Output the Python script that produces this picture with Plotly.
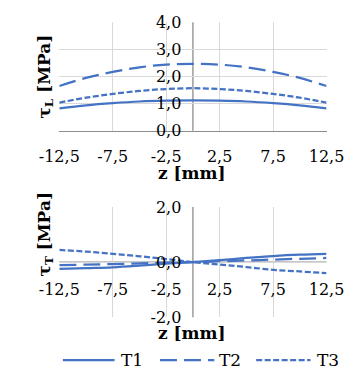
import plotly.graph_objects as go

# Position along the joint (mm)
z = [-12.5, -10, -7.5, -5, -2.5, 0, 2.5, 5, 7.5, 10, 12.5]

# Longitudinal shear stress tau_L (MPa)
tauL_T1 = [0.83, 0.94, 1.02, 1.08, 1.11, 1.12, 1.11, 1.08, 1.02, 0.94, 0.83]
tauL_T2 = [1.65, 1.95, 2.17, 2.34, 2.44, 2.47, 2.44, 2.34, 2.17, 1.95, 1.65]
tauL_T3 = [1.04, 1.22, 1.36, 1.47, 1.54, 1.57, 1.54, 1.47, 1.36, 1.22, 1.04]

# Transverse shear stress tau_T (MPa)
tauT_T1 = [-0.25, -0.22, -0.19, -0.13, -0.06, 0.0, 0.07, 0.15, 0.22, 0.27, 0.30]
tauT_T2 = [-0.11, -0.09, -0.07, -0.05, -0.02, 0.0, 0.03, 0.06, 0.09, 0.12, 0.15]
tauT_T3 = [0.44, 0.38, 0.30, 0.21, 0.11, 0.0, -0.09, -0.18, -0.28, -0.34, -0.40]

series_names = ["T1", "T2", "T3"]

# Tick positions and labels
z_ticks = [-12.5, -7.5, -2.5, 2.5, 7.5, 12.5]
z_ticktext = ["-12,5", "-7,5", "-2,5", "2,5", "7,5", "12,5"]
tauL_ticks = [0, 1, 2, 3, 4]
tauL_ticktext = ["0,0", "1,0", "2,0", "3,0", "4,0"]
tauT_ticks = [-2, 0, 2]
tauT_ticktext = ["-2,0", "0,0", "2,0"]

W, H = 357, 391
FONT = "DejaVu Serif"
BLUE = "#4472C4"
GRID = "#d9d9d9"
AXIS = "#8c8c8c"
LW = 2.25
dashes = ["solid", "17px,7px", "6px,2.5px"]

def px(x):
    return x / W

def py(y):
    return 1 - y / H

x_dom = [px(43), px(343)]
top_dom = [py(128), py(14)]
bot_dom = [py(324), py(208)]
ylabel_pos = px(180)         # tick labels sit left of the z = 0 line
bot_xlabel_pos = py(283)     # tick labels sit just under the tau_T = 0 line

fig = go.Figure()

for name, vals, d in zip(series_names, [tauL_T1, tauL_T2, tauL_T3], dashes):
    fig.add_trace(go.Scatter(x=z, y=vals, mode="lines", name=name, xaxis="x", yaxis="y",
                             line=dict(color=BLUE, width=LW, dash=d, shape="spline"),
                             showlegend=False))
for name, vals, d in zip(series_names, [tauT_T1, tauT_T2, tauT_T3], dashes):
    fig.add_trace(go.Scatter(x=z, y=vals, mode="lines", name=name, xaxis="x2", yaxis="y2",
                             line=dict(color=BLUE, width=LW, dash=d, shape="spline"),
                             showlegend=False))

tickfont = dict(family=FONT, size=16, color="#000000")

common_x = dict(range=[-12.5, 12.5], tickvals=z_ticks, ticktext=z_ticktext,
                showgrid=True, gridcolor=GRID, gridwidth=1, zeroline=False,
                ticks="", tickfont=tickfont, ticklabeloverflow="allow",
                fixedrange=True)
common_y = dict(showgrid=True, gridcolor=GRID, gridwidth=1, zeroline=False,
                showline=False, ticks="", tickfont=tickfont, anchor="free",
                position=ylabel_pos, side="left", fixedrange=True)

fig.update_layout(
    width=W, height=H,
    margin=dict(l=0, r=0, t=0, b=0),
    paper_bgcolor="white", plot_bgcolor="white",
    font=dict(family=FONT, size=16, color="#000000"),
    xaxis=dict(domain=x_dom, anchor="y", showline=True, linecolor=AXIS,
               linewidth=1.3, ticklabelstandoff=11, **common_x),
    yaxis=dict(domain=top_dom, range=[0, 4], tickvals=tauL_ticks,
               ticktext=tauL_ticktext, **common_y),
    xaxis2=dict(domain=x_dom, anchor="free", position=bot_xlabel_pos,
                showline=False, **common_x),
    yaxis2=dict(domain=bot_dom, range=[-2, 2], tickvals=tauT_ticks,
                ticktext=tauT_ticktext, **common_y),
    showlegend=False,
)

# Axis lines crossing at zero
axis_line = dict(color=AXIS, width=1.3)
fig.add_shape(type="line", xref="x", yref="y domain", x0=0, x1=0, y0=0, y1=1,
              line=axis_line, layer="below")
fig.add_shape(type="line", xref="x2", yref="y2 domain", x0=0, x1=0, y0=0, y1=1,
              line=axis_line, layer="below")
fig.add_shape(type="line", xref="x2 domain", yref="y2", x0=0, x1=1, y0=0, y1=0,
              line=axis_line, layer="below")

title_font = dict(family=FONT, size=17, color="#000000")
annotations = [
    dict(text="<b>z [mm]</b>", x=px(192), y=py(172)),
    dict(text="<b>z [mm]</b>", x=px(192), y=py(341)),
    dict(text="<b>τ<sub>L</sub> [MPa]</b>", x=px(27), y=py(71), textangle=-90),
    dict(text="<b>τ<sub>T</sub> [MPa]</b>", x=px(27), y=py(237), textangle=-90),
]
for a in annotations:
    fig.add_annotation(xref="paper", yref="paper", showarrow=False,
                       xanchor="center", yanchor="middle", font=title_font, **a)

# Legend drawn as line samples with labels below the lower chart
legend_y = py(369)
legend_items = [(47, 105, 110), (156, 217, 220), (264, 325, 330)]
for (x0, x1, xt), name, d in zip(legend_items, series_names, dashes):
    fig.add_shape(type="line", xref="paper", yref="paper",
                  x0=px(x0), x1=px(x1), y0=legend_y, y1=legend_y,
                  line=dict(color=BLUE, width=LW, dash=d))
    fig.add_annotation(xref="paper", yref="paper", showarrow=False,
                       x=px(xt), y=legend_y, xanchor="left", yanchor="middle",
                       text=name, font=dict(family=FONT, size=17, color="#000000"))

fig.write_html("out.html")
